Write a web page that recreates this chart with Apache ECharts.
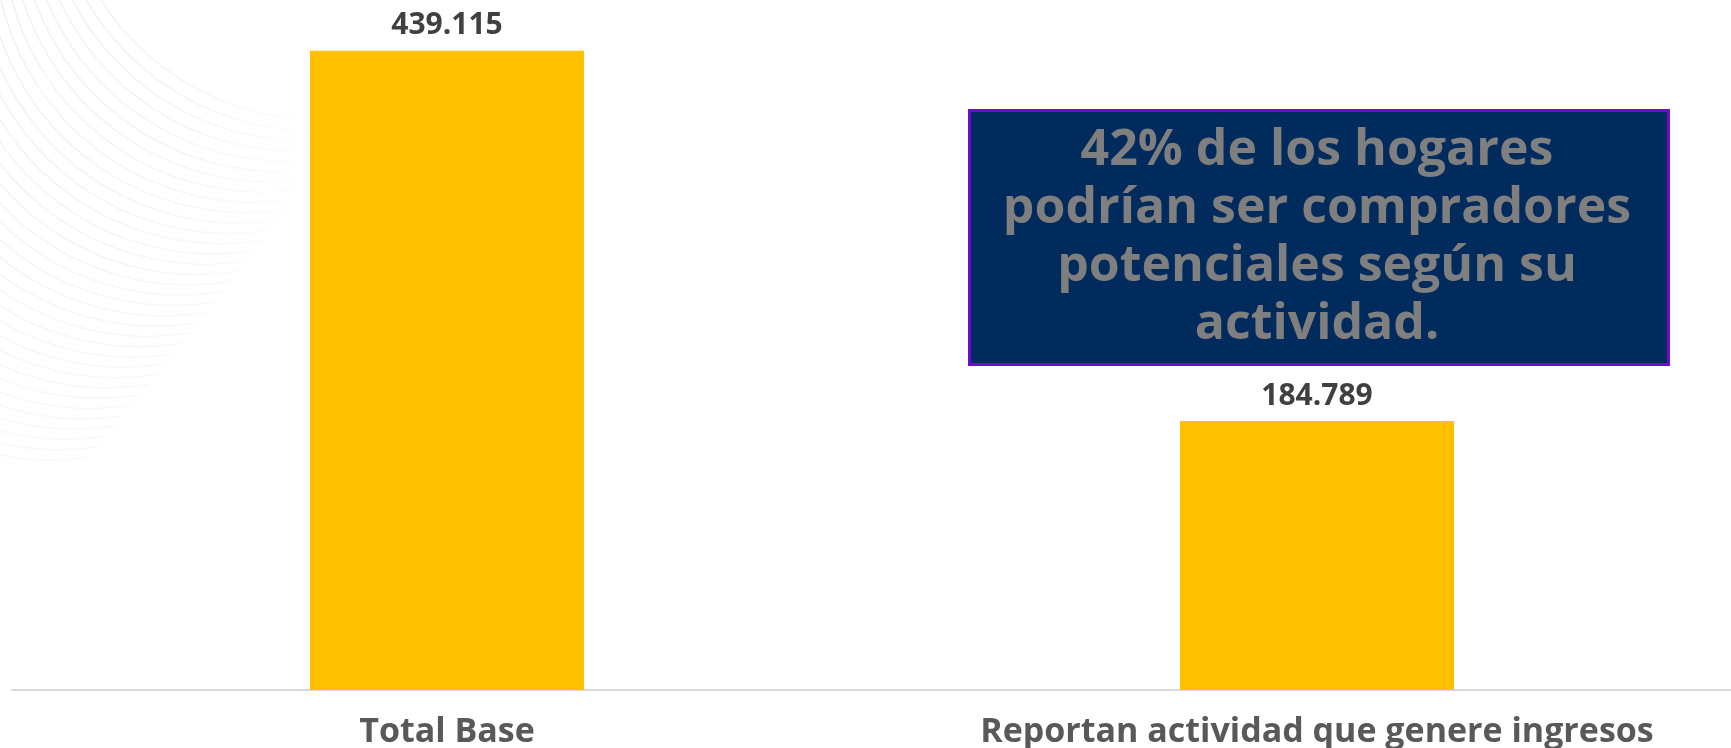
<!DOCTYPE html>
<html>
<head>
<meta charset="utf-8">
<script src="https://cdn.jsdelivr.net/npm/echarts@6/dist/echarts.min.js"></script>
<style>
  html, body { margin: 0; padding: 0; background: #fff; }
  #chart-container { width: 1731px; height: 748px; }
</style>
</head>
<body>
<div id="chart-container"></div>
<script>
var categories = ["Total Base", "Reportan actividad que genere ingresos"];
var values = [439115, 184789];
var noteLines = [
  "42% de los hogares",
  "podrían ser compradores",
  "potenciales según su",
  "actividad."
];

var dom = document.getElementById("chart-container");
var myChart = echarts.init(dom, null, { renderer: "canvas" });

// faint curved lines in the top-left background (decoration only)
var arcs = [];
var nArcs = 34;
for (var i = 0; i < nArcs; i++) {
  var t = i / (nArcs - 1);
  var a = (0.07 - 0.04 * t).toFixed(3);
  arcs.push({
    type: "arc",
    silent: true,
    z: -10,
    shape: {
      cx: 320 - 270 * t,
      cy: -140 + 340 * t,
      r: 260,
      startAngle: Math.PI * 0.45,
      endAngle: Math.PI * 1.1
    },
    style: {
      fill: null,
      lineWidth: 1.3,
      stroke: {
        type: "linear", x: 0, y: 0, x2: 330, y2: 0, global: true,
        colorStops: [
          { offset: 0, color: "rgba(0,0,0," + a + ")" },
          { offset: 0.55, color: "rgba(0,0,0," + (a * 0.7).toFixed(3) + ")" },
          { offset: 1, color: "rgba(0,0,0,0)" }
        ]
      }
    }
  });
}

function fmt(v) {
  return String(v).replace(/\B(?=(\d{3})+(?!\d))/g, ".");
}

var option = {
  animation: false,
  grid: { left: 12, top: 35, width: 1740, bottom: 58, containLabel: false, outerBoundsMode: "none" },
  xAxis: {
    type: "category",
    data: categories,
    axisLine: { lineStyle: { color: "#d9d9d9", width: 2 } },
    axisTick: { show: false },
    axisLabel: {
      interval: 0,
      margin: 25,
      color: "#595959",
      fontFamily: "Open Sans",
      fontWeight: "bold",
      fontSize: 34
    }
  },
  yAxis: {
    type: "value",
    min: 0,
    max: 450000,
    show: false,
    splitLine: { show: false }
  },
  series: [
    {
      type: "bar",
      data: values,
      barWidth: 274,
      itemStyle: { color: "#FFC000" },
      label: {
        show: true,
        position: "top",
        distance: 10,
        color: "#404040",
        fontFamily: "Open Sans",
        fontWeight: "bold",
        fontSize: 30,
        formatter: function (p) { return fmt(p.value); }
      }
    }
  ],
  graphic: arcs.concat([
    {
      type: "rect",
      left: 968,
      top: 109,
      shape: { width: 699, height: 254 },
      style: { fill: "#002B5C", stroke: "#6A0DCE", lineWidth: 3 },
      z: 100
    },
    {
      type: "text",
      x: 1317,
      y: 238,
      z: 101,
      style: {
        text: noteLines.join("\n"),
        fill: "#7F7F7F",
        font: "bold 50px 'Open Sans'",
        lineHeight: 58,
        align: "center",
        verticalAlign: "middle"
      }
    }
  ])
};

myChart.setOption(option);
window.addEventListener("resize", myChart.resize);
</script>
</body>
</html>
